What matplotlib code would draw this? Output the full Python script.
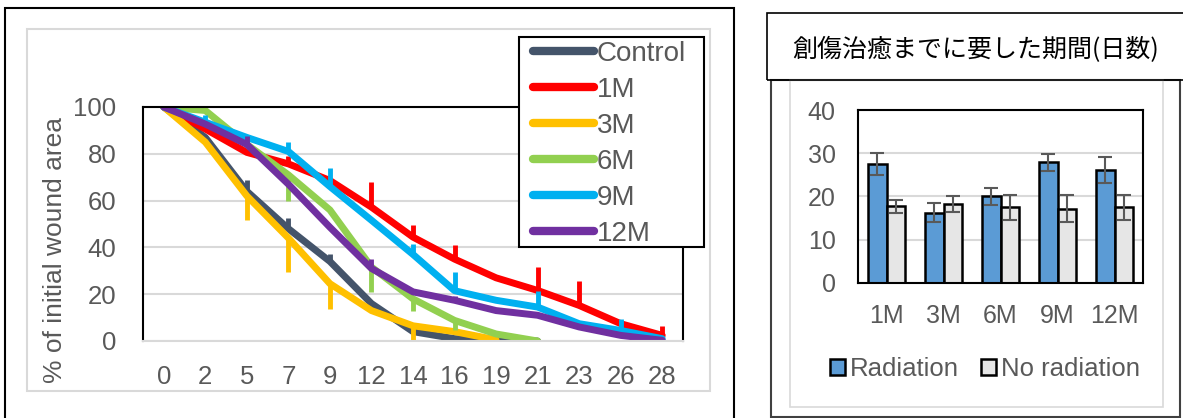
import numpy as np
import matplotlib
matplotlib.use('Agg')
import matplotlib.pyplot as plt
from matplotlib.patches import Rectangle, Patch
from matplotlib.lines import Line2D

plt.rcParams['font.family'] = ['Liberation Sans', 'Noto Sans CJK JP', 'DejaVu Sans']

# ---- data: wound area time course ----
days = ['0', '2', '5', '7', '9', '12', '14', '16', '19', '21', '23', '26', '28']
nan = np.nan
control = [100, 87, 64, 48, 34, 16, 4, 1, 0.3, 0, nan, nan, nan]
m1 = [100, 90.6, 80.6, 75.7, 68.6, 57.2, 44.4, 35, 27, 21.6, 15.2, 7.4, 2.4]
m3 = [100, 85, 62, 44, 24.5, 13, 6.5, 4, 0.5, nan, nan, nan, nan]
m6 = [100, 98.5, 84, 71, 56, 31.6, 18, 8.8, 3, 0, nan, nan, nan]
m9 = [100, 93.5, 87, 81, 66, 51.6, 37, 21.5, 17.4, 14.5, 7.4, 4.5, 1]
m12 = [100, 92.7, 84, 67, 48.6, 31, 21, 17.4, 13, 11, 6, 2.4, 0.3]

# one-sided error bars (minus, plus)
control_err = ([0]*13, [0, 0, 4.6, 4.5, 3, 0, 0, 0, 0, 0, 0, 0, 0])
m1_err = ([0]*13, [0, 0, 0, 3.5, 0, 10.8, 5, 6, 0, 10, 10.3, 0, 3.9])
m3_err = ([0, 0, 10.5, 14.6, 11, 0, 6, 0, 0, 0, 0, 0, 0], [0]*13)
m6_err = ([0, 0, 0, 11, 0, 10.6, 5, 4.3, 0, 0, 0, 0, 0], [0]*13)
m9_err = ([0]*13, [0, 3, 0, 4, 8, 0, 4.5, 8, 0, 7, 0, 5, 0])
m12_err = ([0]*13, [0, 0, 3.8, 0, 0, 4, 0, 2, 0, 0, 0, 0, 0])

series_names = ['Control', '1M', '3M', '6M', '9M', '12M']
series_vals = [control, m1, m3, m6, m9, m12]
series_err = [control_err, m1_err, m3_err, m6_err, m9_err, m12_err]
series_colors = ['#44546A', '#FF0000', '#FFC000', '#92D050', '#00B0F0', '#7030A0']

# ---- data: days to healing ----
groups = ['1M', '3M', '6M', '9M', '12M']
radiation = [27.5, 16.3, 20.0, 27.9, 26.2]
radiation_err = [2.6, 2.3, 2.0, 2.0, 3.0]
no_radiation = [17.7, 18.3, 17.5, 17.2, 17.5]
no_radiation_err = [1.5, 1.9, 2.9, 3.2, 2.9]

W, H = 1183, 418
txt = '#595959'
fig = plt.figure(figsize=(W/100, H/100), dpi=100)


def box(x0, y0, x1, y1):
    return [x0/W, 1-y1/H, (x1-x0)/W, (y1-y0)/H]


def frame(x0, y0, x1, y1, color, lw, fill=None, z=0):
    fig.add_artist(Rectangle((x0/W, 1-y1/H), (x1-x0)/W, (y1-y0)/H, transform=fig.transFigure,
                             fill=fill is not None, facecolor=fill, edgecolor=color,
                             linewidth=lw, zorder=z))


# frames
frame(5, 8, 734, 430, 'black', 1.5)
frame(27, 29, 710, 391, '#D9D9D9', 1.5)
frame(771, 80, 1180, 417, '#404040', 1.5)
frame(790, 80, 1163, 407, '#D9D9D9', 1.2)
frame(767, 13, 1190, 80, 'black', 1.2)

# ---- left: line chart ----
ax1 = fig.add_axes(box(143, 107, 683, 341))
x = np.arange(len(days))
for name, vals, err, c in zip(series_names, series_vals, series_err, series_colors):
    v = np.array(vals, dtype=float)
    ax1.errorbar(x, v, yerr=err, fmt='none', ecolor=c, elinewidth=3.5, capsize=0)
    ax1.plot(x, v, color=c, lw=5, solid_capstyle='round', solid_joinstyle='round', label=name)
ax1.set_xlim(-0.5, len(days)-0.5)
ax1.set_ylim(0, 100)
ax1.set_yticks(range(0, 101, 20))
ax1.set_xticks(x)
ax1.set_xticklabels(days)
ax1.tick_params(length=0, labelsize=18.5, labelcolor=txt)
ax1.tick_params(axis='y', pad=19)
ax1.tick_params(axis='x', pad=17)
ax1.grid(axis='y', color='#D9D9D9', lw=1.5)
ax1.set_axisbelow(True)
for s in ['left', 'top', 'right']:
    ax1.spines[s].set_linewidth(1.5)
ax1.spines['bottom'].set_color('#D9D9D9')
ax1.spines['bottom'].set_linewidth(1.5)
fig.text(55/W, 1-250/H, '% of initial wound area', rotation=90, ha='center', va='center',
         fontsize=19, color=txt)

# legend box (white, covers the plot) and legend entries
frame(519, 37, 704, 247, 'black', 1.5, fill='white', z=4)
handles = [Line2D([], [], color=c, lw=6, solid_capstyle='round') for c in series_colors]
leg = fig.legend(handles, series_names, loc='upper left', bbox_to_anchor=(533/W, 1-41/H),
                 borderaxespad=0, borderpad=0, fontsize=20, labelcolor=txt, handlelength=2.2,
                 handletextpad=0.1, labelspacing=0.36, frameon=False)
leg.set_zorder(5)

# ---- right: bar chart ----
ax2 = fig.add_axes(box(858, 110, 1143, 283))
xb = np.arange(len(groups))
bw = 0.333
ax2.bar(xb-bw/2, radiation, bw, color='#5B9BD5', edgecolor='black', lw=1.8, zorder=2)
ax2.bar(xb+bw/2, no_radiation, bw, color='#E6E6E6', edgecolor='black', lw=1.8, zorder=2)
ax2.errorbar(xb-bw/2, radiation, yerr=radiation_err, fmt='none', ecolor=txt, elinewidth=1.5,
             capsize=4.7, capthick=1.5, zorder=3)
ax2.errorbar(xb+bw/2, no_radiation, yerr=no_radiation_err, fmt='none', ecolor=txt,
             elinewidth=1.5, capsize=4.7, capthick=1.5, zorder=3)
ax2.set_xlim(-0.5, len(groups)-0.5)
ax2.set_ylim(0, 40)
ax2.set_yticks(range(0, 41, 10))
ax2.set_xticks(xb)
ax2.set_xticklabels(groups)
ax2.tick_params(length=0, labelsize=18, labelcolor=txt)
ax2.tick_params(axis='y', pad=16)
ax2.tick_params(axis='x', pad=15)
ax2.grid(axis='y', color='#D9D9D9', lw=1.5)
ax2.set_axisbelow(True)
for s in ax2.spines.values():
    s.set_linewidth(1.5)

fig.text(976/W, 1-50/H, '創傷治癒までに要した期間(日数)', ha='center', va='center',
         fontsize=18, color='black', family=['Noto Sans CJK JP', 'DejaVu Sans'])

bh = [Patch(facecolor='#5B9BD5', edgecolor='black', lw=1.8),
      Patch(facecolor='#E6E6E6', edgecolor='black', lw=1.8)]
fig.legend(bh, ['Radiation', 'No radiation'], loc='center', ncol=2,
           bbox_to_anchor=(985/W, 1-369/H), frameon=False, fontsize=18.5, labelcolor=txt,
           handlelength=0.6, handleheight=0.6, handletextpad=0.2, columnspacing=0.85)

fig.savefig('out.png', dpi=100)
